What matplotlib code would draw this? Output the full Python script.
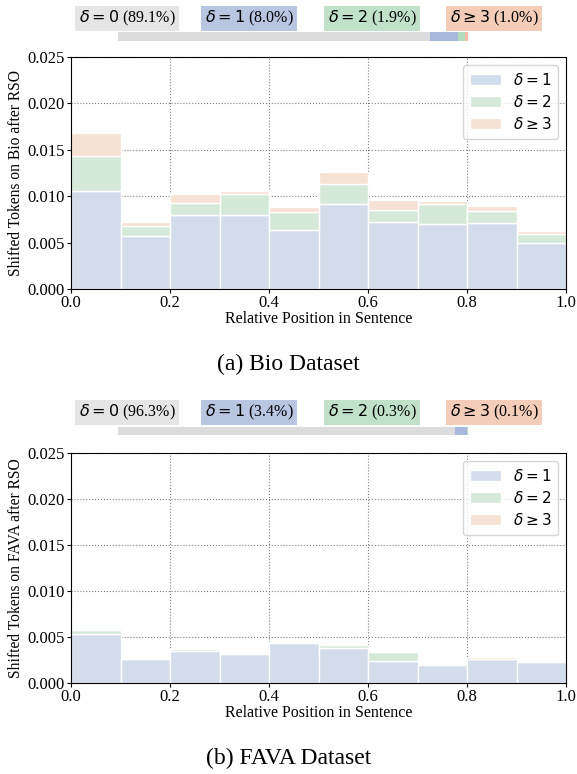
import numpy as np
import matplotlib
matplotlib.use("Agg")
import matplotlib.pyplot as plt

plt.rcParams['font.family'] = ['Liberation Serif', 'DejaVu Serif']
plt.rcParams['mathtext.fontset'] = 'dejavusans'

# bins of relative position
bin_left = np.arange(0, 1.0, 0.1)

# Bio dataset, per delta
bio_d1 = [0.01059, 0.00576, 0.00793, 0.00793, 0.00634, 0.00911, 0.00724, 0.00699, 0.00710, 0.00497]
bio_d2 = [0.00378, 0.00105, 0.00133, 0.00226, 0.00191, 0.00220, 0.00126, 0.00212, 0.00126, 0.00101]
bio_d3 = [0.00245, 0.00039, 0.00101, 0.00040, 0.00061, 0.00130, 0.00105, 0.00040, 0.00061, 0.00025]

# FAVA dataset, per delta
fava_d1 = [0.00532, 0.00257, 0.00344, 0.00311, 0.00434, 0.00376, 0.00239, 0.00199, 0.00257, 0.00232]
fava_d2 = [0.00047, 0.00003, 0.00025, 0.00018, 0.00015, 0.00040, 0.00097, 0.00003, 0.00005, 0.00002]
fava_d3 = [0.00010, 0.00000, 0.00005, 0.00003, 0.00002, 0.00000, 0.00000, 0.00000, 0.00020, 0.00000]

# overall shares of delta = 0, 1, 2, >=3
bio_share = [89.1, 8.0, 1.9, 1.0]
fava_share = [96.3, 3.4, 0.3, 0.1]

delta_names = [r'$\delta = 0$', r'$\delta = 1$', r'$\delta = 2$', r'$\delta \geq 3$']
legend_names = [r'$\delta = 1$', r'$\delta = 2$', r'$\delta \geq 3$']

bar_colors = ['#d2dceb', '#d5e9d9', '#f7e0d4']
strip_colors = ['#dcdcdc', '#a7b8da', '#b3dbbd', '#f2bda3']
box_colors = ['#e5e5e5', '#b9c6e2', '#c1e2c8', '#f3cdb8']

W, H = 577, 774
fig = plt.figure(figsize=(W / 100, H / 100), dpi=100)


def px(l, t, r, b):
    return [l / W, 1 - b / H, (r - l) / W, (b - t) / H]


def draw_panel(ax_rect, strip_rect, label_y, series, shares, ylabel, caption, cap_y):
    # share labels
    for name, share, col, xc in zip(delta_names, shares, box_colors, [127, 249, 372, 494]):
        fig.text(xc / W, 1 - label_y / H, name + ' (%.1f%%)' % share, ha='center', va='center',
                 fontsize=11.5,
                 bbox=dict(boxstyle='square,pad=0.2', fc=col, ec='none'))
    # share strip
    sax = fig.add_axes(px(*strip_rect))
    left = 0
    for share, col in zip(shares, strip_colors):
        sax.barh(0, share, left=left, height=1, color=col, edgecolor='none')
        left += share
    sax.set_xlim(0, 100)
    sax.set_ylim(-0.5, 0.5)
    sax.axis('off')

    ax = fig.add_axes(px(*ax_rect))
    bottom = np.zeros(len(bin_left))
    for vals, col, lab in zip(series, bar_colors, legend_names):
        ax.bar(bin_left, vals, width=0.1, bottom=bottom, align='edge', color=col,
               edgecolor='white', linewidth=1, label=lab)
        bottom += np.array(vals)
    ax.set_xlim(0, 1)
    ax.set_ylim(0, 0.025)
    ax.set_xticks(np.arange(0, 1.01, 0.2))
    ax.set_yticks(np.arange(0, 0.0251, 0.005))
    ax.set_xticklabels(['%.1f' % v for v in np.arange(0, 1.01, 0.2)])
    ax.set_yticklabels(['%.3f' % v for v in np.arange(0, 0.0251, 0.005)])
    ax.tick_params(labelsize=12, length=3, pad=1.5)
    ax.grid(True, linestyle=':', color='gray', linewidth=0.8)
    ax.set_axisbelow(True)
    ax.set_xlabel('Relative Position in Sentence', fontsize=11.5, labelpad=0)
    ax.set_ylabel(ylabel, fontsize=11.2, labelpad=2)
    ax.legend(loc='upper right', prop={'family': 'DejaVu Sans', 'size': 11},
              handlelength=2, handletextpad=0.8, labelspacing=0.4, borderpad=0.45,
              borderaxespad=0.5)
    fig.text(0.5, 1 - cap_y / H, caption, ha='center', va='center', fontsize=17)


draw_panel((71, 57, 566, 289), (118, 32, 468, 41), 18.5,
           [bio_d1, bio_d2, bio_d3], bio_share,
           'Shifted Tokens on Bio after RSO', '(a) Bio Dataset', 364)
draw_panel((71, 453, 566, 683), (118, 427, 468, 435), 412.5,
           [fava_d1, fava_d2, fava_d3], fava_share,
           'Shifted Tokens on FAVA after RSO', '(b) FAVA Dataset', 758)

fig.savefig('out.png', dpi=100)
